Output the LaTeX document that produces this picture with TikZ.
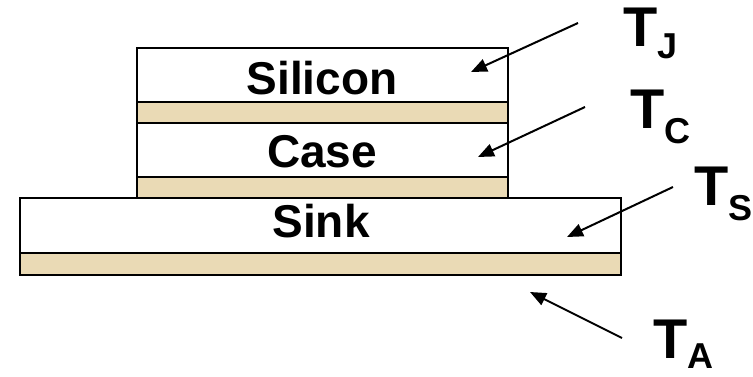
\documentclass[tikz,border=0pt]{standalone}
\usepackage{fontspec}
\setmainfont{Liberation Sans}
\usetikzlibrary{arrows.meta}
\definecolor{padtan}{RGB}{234,218,181}
\tikzset{
  layer/.style={draw=black, line width=2pt, fill=white, anchor=north west,
                inner sep=0pt, outer sep=0pt},
  bond/.style={layer, fill=padtan},
  layertext/.style={anchor=base, inner sep=0pt,
                    font=\fontsize{46}{50}\selectfont\bfseries},
  templabel/.style={anchor=base west, inner sep=0pt,
                    font=\fontsize{56}{60}\selectfont\bfseries},
  pointer/.style={line width=2pt, -{Triangle[length=16pt,width=13pt]}},
}
\newcommand{\tsub}[2][-14pt]{\raisebox{#1}{\fontsize{36}{40}\selectfont #2}}
\begin{document}
\begin{tikzpicture}[x=1pt, y=-1pt]
  \useasboundingbox (0,0) rectangle (753,377);

  % stack of layers, top to bottom
  \node[layer, minimum width=371pt, minimum height=54pt] (silicon) at (137,48) {};
  \node[bond,  minimum width=371pt, minimum height=21pt] (bondA)   at (137,102) {};
  \node[layer, minimum width=371pt, minimum height=54pt] (case)    at (137,123) {};
  \node[bond,  minimum width=371pt, minimum height=21pt] (bondB)   at (137,177) {};
  \node[layer, minimum width=601pt, minimum height=55pt] (sink)    at (20,198) {};
  \node[bond,  minimum width=601pt, minimum height=22pt] (bondC)   at (20,253) {};

  \node[layertext] (siliconText) at (322,95)  {Silicon};
  \node[layertext] (caseText)    at (322,168) {Case};
  \node[layertext] (sinkText)    at (321,237) {Sink};

  % temperature labels
  \node[templabel] (tj) at (623,47)  {T\tsub[-12pt]{J}};
  \node[templabel] (tc) at (630,129) {T\tsub[-15pt]{C}};
  \node[templabel] (ts) at (694,205) {T\tsub[-16pt]{S}};
  \node[templabel] (ta) at (653,358) {T\tsub[-10pt]{A}};

  % pointer ends
  \coordinate (tjFrom) at (578,23);
  \coordinate (tjTo)   at (471,72);
  \coordinate (tcFrom) at (585,107);
  \coordinate (tcTo)   at (478,157);
  \coordinate (tsFrom) at (673,187);
  \coordinate (tsTo)   at (567,237);
  \coordinate (taFrom) at (622,338);
  \coordinate (taTo)   at (530,292);

  \draw[pointer] (tjFrom) -- (tjTo);
  \draw[pointer] (tcFrom) -- (tcTo);
  \draw[pointer] (tsFrom) -- (tsTo);
  \draw[pointer] (taFrom) -- (taTo);
\end{tikzpicture}
\end{document}
